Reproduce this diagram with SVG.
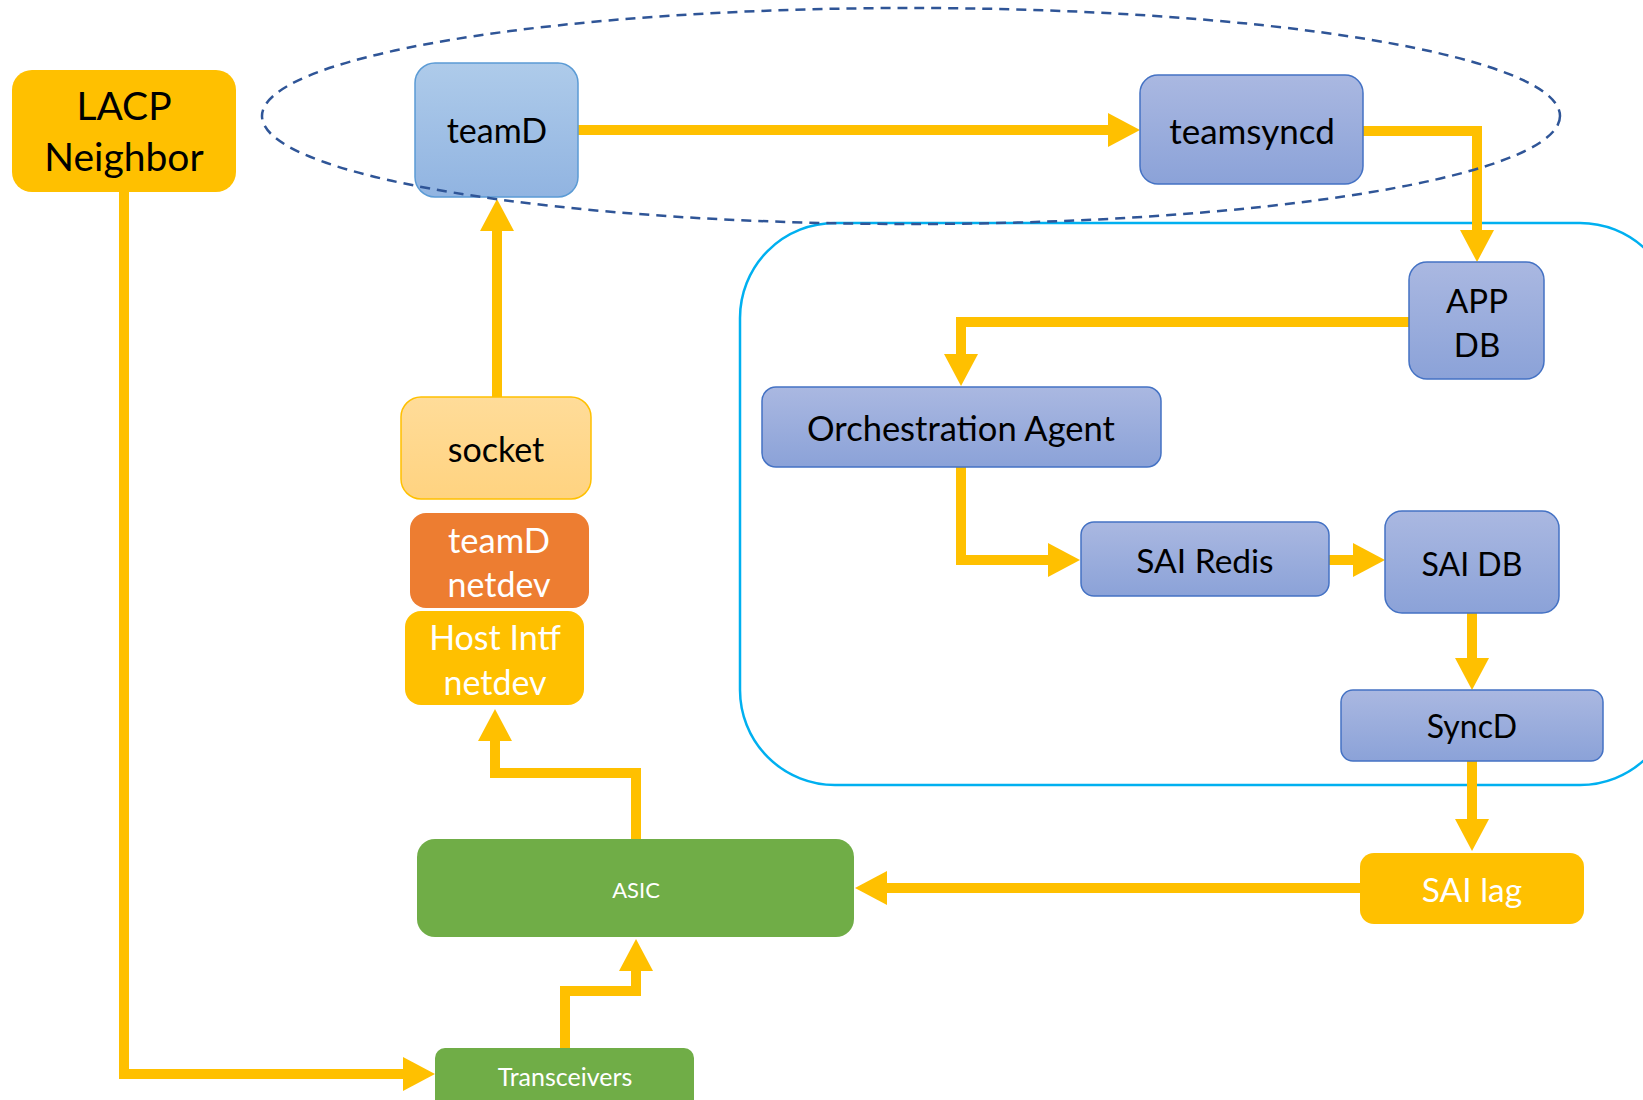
<svg xmlns="http://www.w3.org/2000/svg" width="1643" height="1100" viewBox="0 0 1643 1100">
<defs>
<linearGradient id="gLav" x1="0" y1="0" x2="0" y2="1"><stop offset="0" stop-color="#AAB8E1"/><stop offset="1" stop-color="#8BA2D8"/></linearGradient>
<linearGradient id="gBlue" x1="0" y1="0" x2="0" y2="1"><stop offset="0" stop-color="#AECBEA"/><stop offset="1" stop-color="#91B4E1"/></linearGradient>
<linearGradient id="gSock" x1="0" y1="0" x2="0" y2="1"><stop offset="0" stop-color="#FFDC99"/><stop offset="1" stop-color="#FFD380"/></linearGradient>
<marker id="ah" markerUnits="userSpaceOnUse" markerWidth="32" markerHeight="34" refX="0" refY="17" orient="auto">
<path d="M0,0 L32,17 L0,34 z" fill="#FFC000"/>
</marker>
<style>
.t{font-family:Lato,"Open Sans","Liberation Sans",sans-serif;text-anchor:middle;dominant-baseline:central}
.k{fill:#000}
.w{fill:#fff}
.lav{fill:url(#gLav);stroke:#4472C4;stroke-width:1.5}
.gold{fill:#FFC000}
.grn{fill:#70AD47}
.c{fill:none;stroke:#FFC000;stroke-width:10;marker-end:url(#ah)}
</style>
</defs>
<rect x="0" y="0" width="1643" height="1100" fill="#fff"/>
<rect id="container" x="740" y="223" width="935" height="562" rx="95" fill="none" stroke="#00B0F0" stroke-width="2.5"/>
<g id="connectors">
<polyline class="c" points="578,130 1108,130"/>
<polyline class="c" points="1363,131 1477,131 1477,230"/>
<polyline class="c" points="1409,322 961,322 961,354"/>
<polyline class="c" points="961,467 961,560 1048,560"/>
<polyline class="c" points="1329,560 1353,560"/>
<polyline class="c" points="1472,613 1472,658"/>
<polyline class="c" points="1472,761 1472,819"/>
<polyline class="c" points="1360,888 887,888"/>
<polyline class="c" points="636,839 636,773 495,773 495,741"/>
<polyline class="c" points="497,397 497,231"/>
<polyline class="c" points="565,1048 565,991 636,991 636,971"/>
<polyline class="c" points="124,192 124,1074 403,1074"/>
</g>
<g id="lacp"><rect x="12" y="70" width="224" height="122" rx="20" class="gold"/><text class="t k" x="124" y="105" font-size="39">LACP</text><text class="t k" x="124" y="156" font-size="39">Neighbor</text></g>
<g id="teamd"><rect x="415" y="63" width="163" height="134" rx="20" fill="url(#gBlue)" stroke="#5B9BD5" stroke-width="1.5"/><text class="t k" x="497" y="129" font-size="34">teamD</text></g>
<g id="teamsyncd"><rect x="1140" y="75" width="223" height="109" rx="18" class="lav"/><text class="t k" x="1252" y="130" font-size="35">teamsyncd</text></g>
<g id="appdb"><rect x="1409" y="262" width="135" height="117" rx="18" class="lav"/><text class="t k" x="1477" y="300" font-size="33">APP</text><text class="t k" x="1477" y="344" font-size="33">DB</text></g>
<g id="orch"><rect x="762" y="387" width="399" height="80" rx="14" class="lav"/><text class="t k" x="961" y="427" font-size="34.5">Orchestration Agent</text></g>
<g id="sairedis"><rect x="1081" y="522" width="248" height="74" rx="13" class="lav"/><text class="t k" x="1205" y="560" font-size="33.5">SAI Redis</text></g>
<g id="saidb"><rect x="1385" y="511" width="174" height="102" rx="17" class="lav"/><text class="t k" x="1472" y="563" font-size="32">SAI DB</text></g>
<g id="syncd"><rect x="1341" y="690" width="262" height="71" rx="12" class="lav"/><text class="t k" x="1472" y="725" font-size="32">SyncD</text></g>
<g id="sailag"><rect x="1360" y="853" width="224" height="71" rx="14" class="gold"/><text class="t w" x="1472" y="889" font-size="33.5">SAI lag</text></g>
<g id="asic"><rect x="417" y="839" width="437" height="98" rx="18" class="grn"/><text class="t w" x="636" y="889" font-size="22">ASIC</text></g>
<g id="transceivers"><rect x="435" y="1048" width="259" height="62" rx="10" class="grn"/><text class="t w" x="565" y="1076" font-size="25">Transceivers</text></g>
<g id="socket"><rect x="401" y="397" width="190" height="102" rx="20" fill="url(#gSock)" stroke="#FFC000" stroke-width="1.5"/><text class="t k" x="496" y="448" font-size="34">socket</text></g>
<g id="teamdnetdev"><rect x="410" y="513" width="179" height="95" rx="16" fill="#ED7D31"/><text class="t w" x="499" y="539" font-size="34.5">teamD</text><text class="t w" x="499" y="583" font-size="34">netdev</text></g>
<g id="hostintf"><rect x="405" y="611" width="179" height="94" rx="16" class="gold"/><text class="t w" x="495" y="636" font-size="34">Host Intf</text><text class="t w" x="495" y="681" font-size="34">netdev</text></g>
<ellipse id="group" cx="911" cy="116" rx="649" ry="108" fill="none" stroke="#2F5597" stroke-width="2.5" stroke-dasharray="10 7"/>
</svg>
